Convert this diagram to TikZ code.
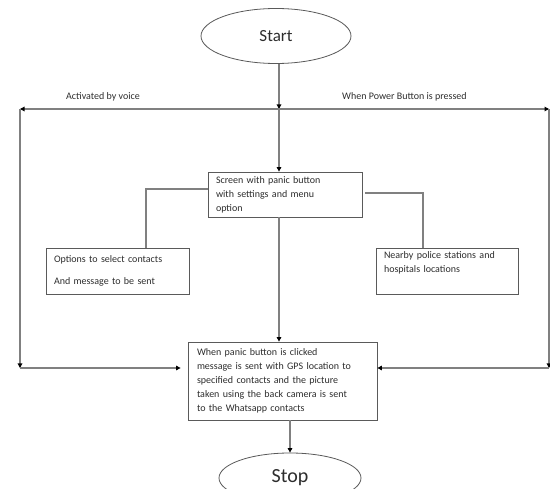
\documentclass[tikz,border=0pt]{standalone}
\usepackage{fontspec}
\setmainfont{Carlito}
\usepackage{tikz}
\usetikzlibrary{shapes.geometric, arrows.meta, positioning, calc}
\definecolor{FlowLine}{RGB}{128, 128, 128}
\definecolor{FlowBorder}{RGB}{90, 90, 90}
\definecolor{FlowText}{RGB}{45, 45, 45}

\begin{document}
\begin{tikzpicture}[
    x=1pt, y=-1pt,
    every node/.style={font=\fontsize{10}{14}\selectfont, text=FlowText},
    terminal/.style={ellipse, draw=FlowBorder, fill=white, line width=0.8pt, inner sep=0pt},
    card/.style={rectangle, draw=FlowBorder, fill=white, line width=0.8pt, align=left, inner xsep=8pt, inner ysep=3pt},
    link/.style={draw=FlowLine, line width=1.1pt},
    arrow/.style={-{Triangle[length=4.5pt, width=4.5pt, black]}, draw=FlowLine, line width=1.1pt}
  ]
    \useasboundingbox (0,0) rectangle (550,489);

    % Start
    \node[terminal, minimum width=150pt, minimum height=55pt, font=\fontsize{17}{20}\selectfont] (start) at (276,36) {Start};

    % Branch points
    \coordinate (junc) at (279,109);
    \coordinate (tl) at (20,109);
    \coordinate (bl) at (20,368);
    \coordinate (tr) at (549,109);
    \coordinate (br) at (549,368);

    % Branch labels
    \node[anchor=west, inner sep=0pt] (lblvoice) at (66,97) {Activated by voice};
    \node[anchor=west, inner sep=0pt] (lblpower) at (342,97) {When Power Button is pressed};

    % Screen and options
    \node[card, text width=138pt, minimum width=154pt, minimum height=45pt] (scr) at (285,194.5) {Screen with panic button\\with settings and menu\\option};
    \node[card, text width=127pt, minimum width=143pt, minimum height=46pt] (opt) at (117.5,271) {Options to select contacts\\[8pt]And message to be sent};
    \node[card, text width=126pt, minimum width=142pt, minimum height=46pt] (near) at (447,271) {Nearby police stations and\\hospitals locations\\\strut};

    % Alert
    \node[card, text width=171pt, minimum width=189pt, minimum height=78pt, inner xsep=9pt] (alert) at (282.5,381) {When panic button is clicked\\message is sent with GPS location to\\specified contacts and the picture\\taken using the back camera is sent\\to the Whatsapp contacts};

    % Stop
    \node[terminal, minimum width=142pt, minimum height=50pt, font=\fontsize{20}{24}\selectfont] (stop) at (290,478) {Stop};

    % Connections
    \draw[arrow] (start.south -| junc) -- (junc);
    \draw[arrow] (junc) -- (tl);
    \draw[arrow] (junc) -- (tr);
    \draw[arrow] (tl) -- (bl);
    \draw[arrow] (tr) -- (br);
    \draw[arrow, shorten >=7pt] (bl) -- (bl -| alert.west);
    \draw[arrow] (br) -- (br -| alert.east);
    \draw[arrow] (junc) -- (junc |- scr.north);
    \draw[link] ([yshift=5.5pt]scr.west) -| ([xshift=28.5pt]opt.north);
    \draw[link] ([yshift=1.5pt,xshift=3pt]scr.east) -| ([xshift=-24pt]near.north);
    \draw[arrow] (junc |- scr.south) -- (junc |- alert.north);
    \draw[arrow] (alert.south -| stop.north) -- (stop.north);
  \end{tikzpicture}
\end{document}
